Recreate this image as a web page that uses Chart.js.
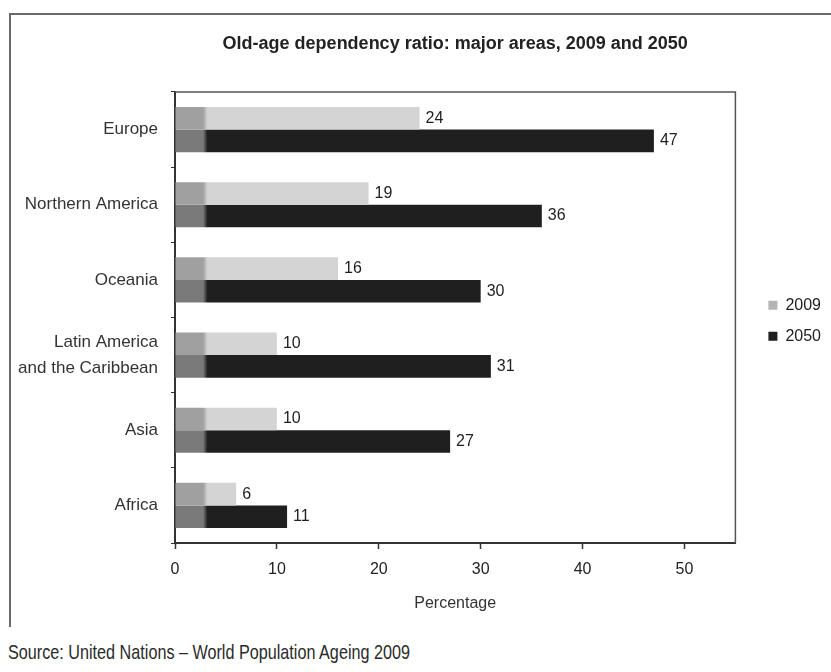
<!DOCTYPE html>
<html>
<head>
<meta charset="utf-8">
<script src="https://cdn.jsdelivr.net/npm/chart.js@4/dist/chart.umd.min.js"></script>
<style>
  html, body { margin: 0; padding: 0; background: #fff; width: 831px; height: 672px; overflow: hidden; }
  #frame { position: absolute; left: 9px; top: 13px; width: 822px; height: 612px; border-top: 2px solid #6a6a6a; border-left: 2px solid #6a6a6a; }
  #wrap { position: absolute; left: 0; top: 0; width: 831px; height: 630px; }
  #source { position: absolute; left: 8px; top: 640px; font-family: "Liberation Sans", Arial, sans-serif; font-size: 21px; color: #2a2a2a; white-space: nowrap; transform-origin: 0 0; display: inline-block; }
</style>
</head>
<body>
<div id="frame"></div>
<div id="wrap"><canvas id="c" width="831" height="630"></canvas></div>
<span id="source">Source: United Nations – World Population Ageing 2009</span>
<script>
const categories = ["Europe", "Northern America", "Oceania", ["Latin America", "and the Caribbean"], "Asia", "Africa"];
const values2009 = [24, 19, 16, 10, 10, 6];
const values2050 = [47, 36, 30, 31, 27, 11];
const seriesNames = ["2009", "2050"];
const xTicks = [0, 10, 20, 30, 40, 50];
const titleText = "Old-age dependency ratio: major areas, 2009 and 2050";
const xTitle = "Percentage";

const FONT = "'Liberation Sans', Arial, sans-serif";

function makeFill(light, darkPatch, plain) {
  return (ctx) => {
    const area = ctx.chart.chartArea;
    if (!area || ctx.type !== 'data') return plain;
    const g = ctx.chart.ctx.createLinearGradient(area.left, 0, area.right, 0);
    g.addColorStop(0, darkPatch);
    g.addColorStop(0.05, darkPatch);
    g.addColorStop(0.058, light);
    g.addColorStop(1, light);
    return g;
  };
}

const valueLabels = {
  id: 'valueLabels',
  afterDatasetsDraw(chart) {
    const c = chart.ctx;
    c.save();
    c.font = "16px " + FONT;
    c.fillStyle = "#1e1e1e";
    c.textBaseline = "middle";
    c.textAlign = "left";
    chart.data.datasets.forEach((ds, i) => {
      const meta = chart.getDatasetMeta(i);
      meta.data.forEach((el, j) => {
        c.fillText(String(ds.data[j]), el.x + 6, el.y);
      });
    });
    c.restore();
  }
};

const plotBox = {
  id: 'plotBox',
  beforeDatasetsDraw(chart) {
    const a = chart.chartArea, c = chart.ctx;
    c.save();
    c.strokeStyle = "#555";
    c.lineWidth = 1.5;
    c.beginPath();
    c.moveTo(a.left, a.top);
    c.lineTo(a.right, a.top);
    c.lineTo(a.right, a.bottom);
    c.stroke();
    c.restore();
  }
};

new Chart(document.getElementById('c'), {
  type: 'bar',
  data: {
    labels: categories,
    datasets: [
      { label: seriesNames[0], data: values2009, backgroundColor: makeFill('#d4d4d4', '#a0a0a0', '#b4b4b4'), borderWidth: 0 },
      { label: seriesNames[1], data: values2050, backgroundColor: makeFill('#1f1f1f', '#7a7a7a', '#1f1f1f'), borderWidth: 0 }
    ]
  },
  options: {
    indexAxis: 'y',
    responsive: false,
    animation: false,
    layout: { padding: { top: 0, left: 0, right: 0, bottom: 12.6 } },
    datasets: { bar: { categoryPercentage: 0.6, barPercentage: 1.0 } },
    scales: {
      x: {
        type: 'linear', min: 0, max: 55,
        afterBuildTicks(s) { s.ticks = xTicks.map(v => ({ value: v })); },
        afterFit(s) { s.height = 74.4; },
        grid: { drawOnChartArea: false, tickLength: 6, color: '#333', tickWidth: 1.5 },
        border: { color: '#333', width: 2 },
        ticks: { padding: 11, color: '#222', font: { family: FONT, size: 16 } },
        title: { display: true, text: xTitle, color: '#333', font: { family: FONT, size: 16 }, padding: { top: 15, bottom: 4 } }
      },
      y: {
        type: 'category',
        afterFit(s) { s.width = 175; },
        grid: { drawOnChartArea: false, tickLength: 4, color: '#333', offset: true },
        border: { color: '#333', width: 2 },
        ticks: { padding: 13, color: '#333', font: { family: FONT, size: 17, lineHeight: 1.5 } }
      },
      yR: {
        type: 'category', position: 'right', display: true,
        afterFit(s) { s.width = 18; },
        grid: { display: false, drawTicks: false },
        border: { display: false },
        ticks: { display: false }
      }
    },
    plugins: {
      title: { display: true, fullSize: false, text: titleText, color: '#222', font: { family: FONT, size: 18, weight: 'bold' }, padding: { top: 33, bottom: 37.4 } },
      legend: {
        position: 'right',
        title: { display: true, text: ' ', padding: 9, font: { size: 5 } },
        labels: {
          boxWidth: 9, boxHeight: 9, padding: 15, color: '#222',
          font: { family: FONT, size: 16 },
          generateLabels(chart) {
            const cols = ['#b4b4b4', '#1f1f1f'];
            return chart.data.datasets.map((d, i) => ({ text: d.label, fillStyle: cols[i], strokeStyle: cols[i], lineWidth: 0, datasetIndex: i, fontColor: '#222' }));
          }
        }
      },
      tooltip: { enabled: false }
    }
  },
  plugins: [valueLabels, plotBox]
});

const src = document.getElementById('source');
const w = src.getBoundingClientRect().width;
src.style.transform = 'scaleX(' + (402 / w) + ')';
</script>
</body>
</html>
